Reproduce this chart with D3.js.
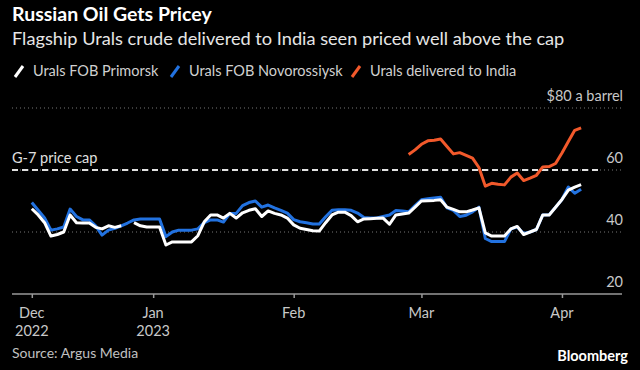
<!DOCTYPE html>
<html>
<head>
<meta charset="utf-8">
<script src="https://cdn.jsdelivr.net/npm/d3@7"></script>
<style>
  html, body { margin: 0; padding: 0; background: #000; }
  svg { display: block; font-family: Lato, "Noto Sans", sans-serif; }
</style>
</head>
<body>
<div id="chart"></div>
<script>
// --- data ------------------------------------------------------------------ //

var monthLabels = [['Dec', '2022'], ['Jan', '2023'], ['Feb'], ['Mar'], ['Apr']];
var monthCounts = [19, 22, 20, 22, 4];   // trading days per month in the series

var primorsk = [
    47.5, 45.5, 43, 38.7, 39.2, 40, 45.5, 43, 42.9, 42.9,
    41.5, 41, 42, 41.5, 42, null, 43, 42, 41.6, 41.6,
    41.6, 35.8, 36.8, 36.8, 36.8, 36.8, 38.8, 43.3, 45.5, 45.5,
    44.5, 46, 44.5, 46.2, 47, 47.5, 45, 46.8, 46, 45.5,
    44.5, 42.3, 41.2, 40.8, 40.4, 40.3, 43, 45.5, 46.4, 46.4,
    45.3, 43.3, 44.2, 44.3, 44.4, 44.5, 42.5, 45.5, 45.8, 46.1,
    48, 50, 50.1, 50.2, 50.4, 48, 47.3, 46.5, 46.5, 47.1,
    47.8, 39.7, 38.7, 38.7, 38.7, 41, 41.8, 39.2, 40, 40.8,
    45.5, 45.5, 48, 50.5, 53.5, 54.5, 55.3
];

var novorossiysk = [
    49.5, 47, 44.5, 40.6, 41, 41.6, 47.4, 45, 43.9, 43.9,
    42, 39, 40.6, 41.2, 42, 42.9, 43.9, 44.2, 44.2, 44.2,
    44.2, 38.5, 40, 40.6, 40.6, 40.6, 41, 43, 43.9, 43.9,
    43.2, 46, 46, 48.5, 49.5, 50, 48, 48.7, 47.8, 47,
    46.1, 44, 43.3, 43, 42.6, 42.6, 44.9, 47, 47.2, 47.2,
    47, 46.1, 44.7, 44.5, 44.5, 45, 45.5, 46.9, 46.8, 46.5,
    48.5, 50.4, 50.7, 51, 51.2, 47.8, 47, 45, 45.4, 46.5,
    48, 37.9, 36.9, 36.9, 36.9, 41, 41.6, 39.5, 40, 40.8,
    45.5, 45.6, 48, 50.5, 54.5, 52.5, 53.8
];

var indiaStart = 59;   // first trading day with a delivered-to-India quote
var india = [
    65, 66.5, 68.3, 69.4, 69.6, 70, 67.6, 65.2, 65.6, 64.7,
    63.8, 60.8, 54.8, 55.7, 55.4, 55.2, 57.7, 59, 56.6, 57.4,
    58.3, 61, 61.1, 62.1, 65.5, 69.2, 72.8, 73.6
];

var yTicks = [20, 40, 60, 80];
var priceCap = 60;

var seriesNames = ['Urals FOB Primorsk', 'Urals FOB Novorossiysk', 'Urals delivered to India'];
var colors = ['#ffffff', '#2272e0', '#f2592b'];

// --- layout --------------------------------------------------------------- //

var W = 640, H = 370;
var plotLeft = 12, plotRight = 622, plotTop = 108, plotBottom = 294;

var svg = d3.select('#chart').append('svg')
    .attr('width', W)
    .attr('height', H)
    .attr('viewBox', '0 0 ' + W + ' ' + H);

svg.append('rect').attr('width', W).attr('height', H).attr('fill', '#000');

var x = d3.scaleLinear().domain([-3.1, 92.4]).range([plotLeft, plotRight]);
var y = d3.scaleLinear().domain([20, 80]).range([plotBottom, plotTop]);

// month start positions
var monthStarts = [];
var acc = 0;
for (var m = 0; m < monthCounts.length; m++) {
    monthStarts.push(acc);
    acc += monthCounts[m];
}

// --- header --------------------------------------------------------------- //

svg.append('text')
    .attr('x', 12).attr('y', 21)
    .attr('fill', '#ffffff')
    .attr('font-size', 19.5).attr('font-weight', 700)
    .text('Russian Oil Gets Pricey');

svg.append('text')
    .attr('x', 12).attr('y', 45)
    .attr('fill', '#e6e6e6')
    .attr('font-size', 18.2)
    .text('Flagship Urals crude delivered to India seen priced well above the cap');

// legend
var legendX = [14, 170, 351];
var legend = svg.append('g').attr('class', 'legend');
seriesNames.forEach(function (name, i) {
    var g = legend.append('g').attr('transform', 'translate(' + legendX[i] + ',71)');
    g.append('line')
        .attr('x1', 1).attr('y1', 6).attr('x2', 9).attr('y2', -5)
        .attr('stroke', colors[i]).attr('stroke-width', 3);
    g.append('text')
        .attr('x', 19).attr('y', 5)
        .attr('fill', '#d0d0d0')
        .attr('font-size', 14.5)
        .text(name);
});

// --- grid and y labels ---------------------------------------------------- //

var grid = svg.append('g').attr('class', 'grid');
yTicks.filter(function (d) { return d > 20; }).forEach(function (d) {
    grid.append('line')
        .attr('x1', plotLeft).attr('x2', plotRight)
        .attr('y1', y(d)).attr('y2', y(d))
        .attr('stroke', '#777').attr('stroke-width', 1)
        .attr('stroke-dasharray', '1,3');
});

grid.selectAll('text.ylab')
    .data(yTicks)
    .enter().append('text')
    .attr('class', 'ylab')
    .attr('x', plotRight + 1)
    .attr('y', function (d) { return y(d) - 7; })
    .attr('text-anchor', 'end')
    .attr('fill', '#c8c8c8')
    .attr('font-size', 14.5)
    .text(function (d) { return d === 80 ? '$80 a barrel' : d; });

// price cap
svg.append('line')
    .attr('x1', plotLeft).attr('x2', 602)
    .attr('y1', y(priceCap)).attr('y2', y(priceCap))
    .attr('stroke', '#e0e0e0').attr('stroke-width', 2)
    .attr('stroke-dasharray', '6,4');

svg.append('text')
    .attr('x', 12).attr('y', y(priceCap) - 7)
    .attr('fill', '#e0e0e0')
    .attr('font-size', 14.5)
    .text('G-7 price cap');

// --- x axis --------------------------------------------------------------- //

var xAxis = d3.axisBottom(x)
    .tickValues(monthStarts)
    .tickSize(4)
    .tickFormat('');

var axisG = svg.append('g')
    .attr('transform', 'translate(0,' + plotBottom + ')')
    .call(xAxis);
axisG.select('.domain').attr('d', 'M' + plotLeft + ',0H' + plotRight).attr('stroke', '#999').attr('stroke-width', 1.5);
axisG.selectAll('.tick line').attr('stroke', '#999').attr('stroke-width', 1.5);

monthStarts.forEach(function (idx, i) {
    var t = svg.append('text')
        .attr('x', x(idx))
        .attr('y', plotBottom + 24)
        .attr('text-anchor', 'middle')
        .attr('fill', '#c8c8c8')
        .attr('font-size', 14.5);
    monthLabels[i].forEach(function (s, k) {
        t.append('tspan').attr('x', x(idx)).attr('dy', k === 0 ? 0 : 18).text(s);
    });
});

// --- lines ---------------------------------------------------------------- //

var line = d3.line()
    .defined(function (d) { return d.v !== null; })
    .x(function (d) { return x(d.i); })
    .y(function (d) { return y(d.v); });

function toPoints(arr, offset) {
    return arr.map(function (v, i) { return { i: i + offset, v: v }; });
}

var series = [
    { pts: toPoints(novorossiysk, 0), color: colors[1] },
    { pts: toPoints(primorsk, 0), color: colors[0] },
    { pts: toPoints(india, indiaStart), color: colors[2] }
];

svg.append('g').selectAll('path')
    .data(series)
    .enter().append('path')
    .attr('d', function (d) { return line(d.pts); })
    .attr('fill', 'none')
    .attr('stroke', function (d) { return d.color; })
    .attr('stroke-width', 3)
    .attr('stroke-linejoin', 'round');

// --- footer --------------------------------------------------------------- //

svg.append('text')
    .attr('x', 12).attr('y', 358)
    .attr('fill', '#c0c0c0')
    .attr('font-size', 14)
    .text('Source: Argus Media');

svg.append('text')
    .attr('x', 628).attr('y', 361)
    .attr('text-anchor', 'end')
    .attr('fill', '#ffffff')
    .attr('font-size', 14.5).attr('font-weight', 700)
    .text('Bloomberg');
</script>
</body>
</html>
